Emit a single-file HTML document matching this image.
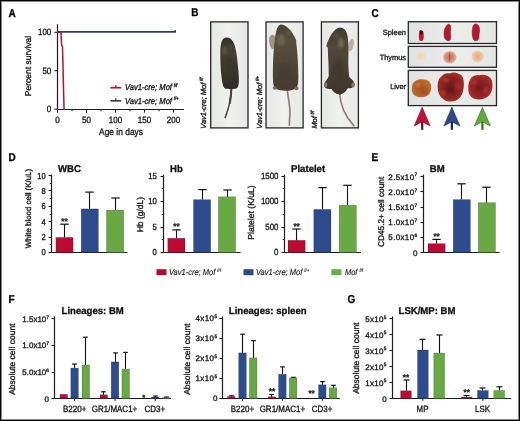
<!DOCTYPE html>
<html><head><meta charset="utf-8"><title>Figure</title>
<style>html,body{margin:0;padding:0;background:#fff;}body{width:520px;height:421px;overflow:hidden;}svg{display:block;will-change:transform;}</style>
</head><body><svg width="520" height="421" viewBox="0 0 520 421" font-family='"Liberation Sans", sans-serif' fill="#202020" text-rendering="geometricPrecision"><defs>
<filter id="soft2" x="-100%" y="-50%" width="300%" height="200%"><feGaussianBlur stdDeviation="0.5"/></filter>
<filter id="soft" x="-50%" y="-50%" width="200%" height="200%"><feGaussianBlur stdDeviation="1.2"/></filter>
<linearGradient id="photobg" x1="0" y1="0" x2="1" y2="0"><stop offset="0" stop-color="#e4e7e4"/><stop offset="0.5" stop-color="#f1f2f0"/><stop offset="1" stop-color="#e6e8e6"/></linearGradient>
<linearGradient id="organbg" x1="0" y1="0" x2="1" y2="0"><stop offset="0" stop-color="#dfe2e0"/><stop offset="0.5" stop-color="#eceeec"/><stop offset="1" stop-color="#e4e6e4"/></linearGradient>
<linearGradient id="fur1" x1="0" y1="0" x2="0" y2="1"><stop offset="0" stop-color="#34312a"/><stop offset="0.3" stop-color="#454032"/><stop offset="1" stop-color="#2e2c25"/></linearGradient>
<linearGradient id="fur2" x1="0" y1="0" x2="0" y2="1"><stop offset="0" stop-color="#463f31"/><stop offset="0.25" stop-color="#584e3d"/><stop offset="1" stop-color="#443c30"/></linearGradient>
<linearGradient id="fur3" x1="0" y1="0" x2="0" y2="1"><stop offset="0" stop-color="#403a2e"/><stop offset="0.3" stop-color="#51483a"/><stop offset="1" stop-color="#3e362b"/></linearGradient>
<radialGradient id="liv1" r="0.6"><stop offset="0" stop-color="#a85420"/><stop offset="0.75" stop-color="#b8642c"/><stop offset="1" stop-color="#d09a68"/></radialGradient>
<radialGradient id="liv2" r="0.62"><stop offset="0" stop-color="#6a1c1a"/><stop offset="0.55" stop-color="#8a2220"/><stop offset="0.88" stop-color="#a8302c"/><stop offset="1" stop-color="#c87868"/></radialGradient>
<radialGradient id="liv3" r="0.62"><stop offset="0" stop-color="#7c1e1e"/><stop offset="0.6" stop-color="#962424"/><stop offset="0.9" stop-color="#ac3430"/><stop offset="1" stop-color="#c87a6a"/></radialGradient>
<radialGradient id="thy1"><stop offset="0" stop-color="#f0d4b0"/><stop offset="0.7" stop-color="#f0dcc0"/><stop offset="1" stop-color="#eae2d8"/></radialGradient>
<radialGradient id="thy2"><stop offset="0" stop-color="#cc6a52"/><stop offset="0.65" stop-color="#d68e78"/><stop offset="1" stop-color="#e4c0b4"/></radialGradient>
<radialGradient id="thy3"><stop offset="0" stop-color="#eaa878"/><stop offset="0.65" stop-color="#eec29e"/><stop offset="1" stop-color="#ead8c8"/></radialGradient>
</defs><rect x="0" y="0" width="520" height="421" fill="#000"/><rect x="1" y="1" width="518" height="419" fill="#8a8a8a"/><rect x="2" y="2" width="516" height="417" fill="#fff"/><text transform="translate(8.40,16.70) scale(0.88,1)" font-size="11.36" text-anchor="start" font-weight="bold" fill="#000" stroke="#000" stroke-width="0.3">A</text>
<text transform="translate(191.20,16.00) scale(0.88,1)" font-size="11.36" text-anchor="start" font-weight="bold" fill="#000" stroke="#000" stroke-width="0.3">B</text>
<text transform="translate(371.50,16.50) scale(0.88,1)" font-size="11.36" text-anchor="start" font-weight="bold" fill="#000" stroke="#000" stroke-width="0.3">C</text>
<text transform="translate(8.60,161.30) scale(0.88,1)" font-size="11.36" text-anchor="start" font-weight="bold" fill="#000" stroke="#000" stroke-width="0.3">D</text>
<text transform="translate(371.50,161.30) scale(0.88,1)" font-size="11.36" text-anchor="start" font-weight="bold" fill="#000" stroke="#000" stroke-width="0.3">E</text>
<text transform="translate(8.60,303.30) scale(0.88,1)" font-size="11.36" text-anchor="start" font-weight="bold" fill="#000" stroke="#000" stroke-width="0.3">F</text>
<text transform="translate(347.40,303.30) scale(0.88,1)" font-size="11.36" text-anchor="start" font-weight="bold" fill="#000" stroke="#000" stroke-width="0.3">G</text>
<line x1="57.50" y1="24.30" x2="57.50" y2="110.10" stroke="#1c1c1c" stroke-width="1.2"/>
<line x1="56.90" y1="109.50" x2="184.00" y2="109.50" stroke="#1c1c1c" stroke-width="1.2"/>
<line x1="54.30" y1="32.30" x2="57.50" y2="32.30" stroke="#1c1c1c" stroke-width="1.0"/>
<text transform="translate(51.30,35.20) scale(0.88,1)" font-size="9.09" text-anchor="end" stroke="#202020" stroke-width="0.35">100</text>
<line x1="54.30" y1="70.70" x2="57.50" y2="70.70" stroke="#1c1c1c" stroke-width="1.0"/>
<text transform="translate(51.30,73.60) scale(0.88,1)" font-size="9.09" text-anchor="end" stroke="#202020" stroke-width="0.35">50</text>
<line x1="54.30" y1="109.20" x2="57.50" y2="109.20" stroke="#1c1c1c" stroke-width="1.0"/>
<text transform="translate(51.30,112.10) scale(0.88,1)" font-size="9.09" text-anchor="end" stroke="#202020" stroke-width="0.35">0</text>
<line x1="57.50" y1="109.50" x2="57.50" y2="112.70" stroke="#1c1c1c" stroke-width="1.0"/>
<text transform="translate(57.50,122.80) scale(0.88,1)" font-size="9.09" text-anchor="middle" stroke="#202020" stroke-width="0.35">0</text>
<line x1="72.00" y1="109.00" x2="72.00" y2="111.30" stroke="#1c1c1c" stroke-width="1.0"/>
<line x1="86.50" y1="109.50" x2="86.50" y2="112.70" stroke="#1c1c1c" stroke-width="1.0"/>
<text transform="translate(86.50,122.80) scale(0.88,1)" font-size="9.09" text-anchor="middle" stroke="#202020" stroke-width="0.35">50</text>
<line x1="101.00" y1="109.00" x2="101.00" y2="111.30" stroke="#1c1c1c" stroke-width="1.0"/>
<line x1="115.50" y1="109.50" x2="115.50" y2="112.70" stroke="#1c1c1c" stroke-width="1.0"/>
<text transform="translate(115.50,122.80) scale(0.88,1)" font-size="9.09" text-anchor="middle" stroke="#202020" stroke-width="0.35">100</text>
<line x1="130.00" y1="109.00" x2="130.00" y2="111.30" stroke="#1c1c1c" stroke-width="1.0"/>
<line x1="144.50" y1="109.50" x2="144.50" y2="112.70" stroke="#1c1c1c" stroke-width="1.0"/>
<text transform="translate(144.50,122.80) scale(0.88,1)" font-size="9.09" text-anchor="middle" stroke="#202020" stroke-width="0.35">150</text>
<line x1="159.00" y1="109.00" x2="159.00" y2="111.30" stroke="#1c1c1c" stroke-width="1.0"/>
<line x1="173.50" y1="109.50" x2="173.50" y2="112.70" stroke="#1c1c1c" stroke-width="1.0"/>
<text transform="translate(173.50,122.80) scale(0.88,1)" font-size="9.09" text-anchor="middle" stroke="#202020" stroke-width="0.35">200</text>
<text transform="translate(121.00,135.40) scale(0.88,1)" font-size="9.55" text-anchor="middle" stroke="#202020" stroke-width="0.35">Age in days</text>
<text transform="translate(31.40,66.00) scale(1.0,1) rotate(-90)" font-size="8.50" text-anchor="middle" stroke="#202020" stroke-width="0.35">Percent survival</text>
<line x1="57.50" y1="31.90" x2="175.40" y2="31.90" stroke="#2e3d62" stroke-width="1.6"/>
<line x1="175.20" y1="30.00" x2="175.20" y2="32.60" stroke="#1e2a44" stroke-width="1.3"/>
<polyline points="57.5,32.0 61,32.0 61.3,40 61.7,45 62.5,47 62.8,58 63.1,70 63.4,84 63.7,96 64.1,109.5" fill="none" stroke="#a8163c" stroke-width="1.5"/>
<line x1="110.40" y1="87.70" x2="121.20" y2="87.70" stroke="#a8163c" stroke-width="1.7"/>
<line x1="115.80" y1="85.10" x2="115.80" y2="87.70" stroke="#a8163c" stroke-width="1.3"/>
<text transform="translate(125.00,90.40) scale(0.88,1)" font-size="8.64" text-anchor="start" font-style="italic" stroke="#202020" stroke-width="0.35">Vav1-cre; Mof<tspan font-size="4.8" dx="2.0" dy="-3.2">f/f</tspan></text>
<line x1="110.40" y1="100.80" x2="121.20" y2="100.80" stroke="#2e3d62" stroke-width="1.7"/>
<line x1="115.80" y1="98.20" x2="115.80" y2="100.80" stroke="#2e3d62" stroke-width="1.3"/>
<text transform="translate(125.00,103.50) scale(0.88,1)" font-size="8.64" text-anchor="start" font-style="italic" stroke="#202020" stroke-width="0.35">Vav1-cre; Mof<tspan font-size="4.8" dx="2.0" dy="-3.2">f/+</tspan></text>
<rect x="210.70" y="21.90" width="37.30" height="106.00" fill="url(#photobg)" stroke="#262626" stroke-width="1.3"/>
<rect x="266.00" y="21.90" width="37.10" height="106.00" fill="url(#photobg)" stroke="#262626" stroke-width="1.3"/>
<rect x="321.40" y="21.90" width="37.00" height="106.00" fill="url(#photobg)" stroke="#262626" stroke-width="1.3"/>
<text transform="translate(206.20,128.80) scale(1.0,1) rotate(-90)" font-size="7.45" text-anchor="start" font-style="italic" stroke="#202020" stroke-width="0.35">Vav1-cre; Mof<tspan font-size="4.6" dx="1.6" dy="-2.9">f/f</tspan></text>
<text transform="translate(261.90,128.80) scale(1.0,1) rotate(-90)" font-size="7.45" text-anchor="start" font-style="italic" stroke="#202020" stroke-width="0.35">Vav1-cre; Mof<tspan font-size="4.6" dx="1.6" dy="-2.9">f/+</tspan></text>
<text transform="translate(317.30,128.60) scale(1.0,1) rotate(-90)" font-size="7.45" text-anchor="start" font-style="italic" stroke="#202020" stroke-width="0.35">Mof<tspan font-size="4.6" dx="1.6" dy="-2.9">f/f</tspan></text>
<g>
<path d="M231.4,87.5 C231.2,97 229,108 225.2,117.6" fill="none" stroke="#45423c" stroke-width="1.5" stroke-linecap="round"/><path d="M231.4,87.5 C231.3,93 230.8,98 229.8,103" fill="none" stroke="#4a463e" stroke-width="2.1" stroke-linecap="round"/>
<path d="M226.1,37.6 C229,37.4 231.5,39 232.6,41.1 C234,43.5 235,46 235.4,48.3 C236.5,53 237.2,57.5 237.6,62.6 C238.3,70 239,76 238.9,81 C238.8,85 238.2,87.5 236.5,88.4 C233,89 229,89 225.4,88.8 C223.6,88 222.6,85 221.9,80 C221,74 220.5,68 220.4,62 C220.3,56 220.2,51 220.4,48.3 C220.7,45 221.2,43 221.9,41.1 C222.8,39 224.3,37.7 226.1,37.6 Z" fill="url(#fur1)"/>
<g filter="url(#soft)" opacity="0.75">
<ellipse cx="224.5" cy="50" rx="2.4" ry="4.5" fill="#5e5644"/>
<ellipse cx="231" cy="47" rx="2.5" ry="3" fill="#4e4838"/>
<ellipse cx="230" cy="66" rx="4" ry="8" fill="#3a3528"/>
</g>
</g>
<g>
<path d="M287.2,89 C287.8,97 290.4,106 289.9,114 C289.6,119 289.3,122 289.4,125.2" fill="none" stroke="#8e8078" stroke-width="1.7" stroke-linecap="round"/>
<path d="M269.4,37.4 C270.5,34.5 273,34 275,36 L276.5,47 C275,50 272,50 270.5,47 C269.3,44 268.8,40 269.4,37.4 Z" fill="#a49484"/>
<path d="M280.6,24.6 C285,24.4 290,29 293.5,35 C295.5,38 296.8,40.5 296.2,42.5 C297.2,50 297.8,58 298,66 C298.3,74 298.8,81 297.5,86 C296.5,89 293,90 290,90.4 C288,91 285,91 283,90.5 C280,90.2 276.5,89.6 274.6,88 C272.8,85 272.8,78 272.9,70 C273,62 273.3,54 274,48 C274.5,42 275,36 276.3,31 C277.3,27.5 278.6,25 280.6,24.6 Z" fill="url(#fur2)"/>
<g filter="url(#soft)" opacity="0.8">
<ellipse cx="281" cy="40" rx="4" ry="6" fill="#726652"/>
<ellipse cx="288" cy="33" rx="3" ry="3" fill="#5e5442"/>
<ellipse cx="285" cy="74" rx="7" ry="12" fill="#463d30"/>
</g>
<ellipse cx="274.8" cy="88" rx="2" ry="1.8" fill="#7a6a5c"/>
<ellipse cx="296.5" cy="88.4" rx="2" ry="1.8" fill="#7a6a5c"/>
</g>
<g>
<path d="M339.6,93 C340.2,104 344,115 353.8,125.6" fill="none" stroke="#8a7c74" stroke-width="1.6" stroke-linecap="round"/>
<ellipse cx="351" cy="45" rx="2.6" ry="6.4" fill="#c6aaa0" transform="rotate(12 351 45)"/>
<path d="M340.2,27.5 C343,27.4 345.5,29.5 346.8,33 C347.8,36 348.2,40 348.3,44 C348.6,50 348.5,56 348.3,62 C348.4,68 348.8,73 349.3,77 C351,78.5 353.5,80.5 354.3,83 C354.8,85.5 353.5,87.5 351.5,88 C350,88.3 348.5,88 347.5,88.5 C346,91.5 343,94.3 339.5,94.4 C336,94.3 333,92 331.5,89 C330,89 327.5,89.2 325.5,88 C323.8,86.5 324,83.5 325.5,81.5 C326.8,79.5 328.2,78 328.7,76 C328.8,70 328.5,64 328.2,58 C328,54 327.9,50 327.8,47.5 C326.8,47.5 326.2,46.5 326.6,45 C328,40 331,34 334.5,30.5 C336.3,28.6 338.2,27.5 340.2,27.5 Z" fill="url(#fur3)"/>
<g filter="url(#soft)" opacity="0.8">
<ellipse cx="341" cy="43" rx="3" ry="5" fill="#7a6e5c"/>
<ellipse cx="336" cy="36" rx="3" ry="3" fill="#5a5040"/>
<ellipse cx="338" cy="72" rx="6" ry="12" fill="#40382c"/>
</g>
<ellipse cx="325.6" cy="85" rx="1.8" ry="2.4" fill="#8a7464"/>
<ellipse cx="353.2" cy="85" rx="1.8" ry="2.4" fill="#8a7464"/>
</g>
<rect x="408.30" y="21.70" width="88.20" height="21.80" fill="url(#organbg)" stroke="#262626" stroke-width="1.3"/>
<rect x="408.30" y="46.40" width="88.20" height="20.90" fill="url(#organbg)" stroke="#262626" stroke-width="1.3"/>
<rect x="408.30" y="70.40" width="88.20" height="35.20" fill="url(#organbg)" stroke="#262626" stroke-width="1.3"/>
<text transform="translate(406.00,35.00) scale(0.98,1)" font-size="7.65" text-anchor="end" stroke="#202020" stroke-width="0.35">Spleen</text>
<text transform="translate(406.00,59.50) scale(0.98,1)" font-size="7.55" text-anchor="end" stroke="#202020" stroke-width="0.35">Thymus</text>
<text transform="translate(406.00,89.10) scale(0.98,1)" font-size="7.45" text-anchor="end" stroke="#202020" stroke-width="0.35">Liver</text>
<path d="M419.6,30.6 C421.6,29.8 423.4,30.6 423.6,33 C423.9,36 423.9,39 422.8,40.6 C421.6,41.4 419.6,41.1 419.1,39.5 C418.7,37 418.8,33 419.6,30.6 Z" fill="#bd1a2e"/>
<path d="M419.9,30.7 C421.1,30.1 422.6,30.5 422.8,32 L422.3,34.6 L420.1,34.6 Z" fill="#2a0c0c"/>
<path d="M448.5,24.2 C446,25 444.2,29 444,33 C443.8,37 445.2,40.8 448.8,40.8 C450.4,40.8 450.7,39 450.6,36.5 C450.5,33 450.6,30 450.6,27.5 C450.6,25 450,24.1 448.5,24.2 Z" fill="#b3182e" stroke="#8a1020" stroke-width="0.5"/>
<path d="M475.5,23.9 C478.5,23.8 479.7,27 479.6,30 C479.5,33 478.8,34.5 479,36.5 C479.2,39 478,40.8 475.8,40.8 C473.5,40.8 472.3,38 472.2,33.5 C472.1,28.5 472.8,24 475.5,23.9 Z" fill="#b3182e" stroke="#8a1020" stroke-width="0.5"/>
<ellipse cx="420.6" cy="56.2" rx="5.2" ry="4.8" fill="url(#thy1)"/>
<ellipse cx="449.7" cy="57.2" rx="6.8" ry="6.3" fill="url(#thy2)"/>
<path d="M449.6,52 C450.4,54 450.4,58 449.8,61.5 L449.2,61.5 C448.8,58 448.9,54 449.6,52 Z" fill="#b84a3c" filter="url(#soft2)"/>
<ellipse cx="477.7" cy="56.4" rx="6.3" ry="6" fill="url(#thy3)"/>
<path d="M415,81.2 C417.5,79.2 421,78.8 424,79.6 C427,79.4 429.8,81 430.8,84 C431.8,87 431.2,91 429.6,93.6 C428,96.4 424.5,97.4 420.5,97.2 C417,97.2 413.8,96 412.6,93.2 C411.4,90.4 411.6,86.6 412.6,84 C413.2,82.6 414,81.8 415,81.2 Z" fill="url(#liv1)"/>
<g filter="url(#soft)" opacity="0.7"><ellipse cx="418" cy="85" rx="2.5" ry="2" fill="#c8844a"/><ellipse cx="425" cy="92" rx="3" ry="2" fill="#9a4818"/><ellipse cx="426" cy="84" rx="2" ry="1.6" fill="#c07a40"/></g>
<path d="M441.5,76.5 C443,73.8 446.5,72.6 449.5,73.4 C452,72.2 456,72.4 458.5,73.8 C461.5,74.4 463.6,77 463.6,80.5 C464.2,84 463.8,88 463,91.5 C462,95.5 459.5,99 455.5,100.8 C452,102 447.5,101.8 444.5,100 C441,98 438.6,94.5 438,90.5 C437.3,86.5 437.6,82 438.8,79.5 C439.5,78 440.4,77.2 441.5,76.5 Z" fill="url(#liv2)"/>
<g filter="url(#soft)" opacity="0.75"><ellipse cx="446" cy="80" rx="3" ry="2.5" fill="#b43a34"/><ellipse cx="458" cy="86" rx="3" ry="4" fill="#a83030"/><ellipse cx="450" cy="90" rx="4" ry="3" fill="#5e1616"/><ellipse cx="443" cy="93" rx="2.5" ry="3" fill="#b23632"/></g>
<path d="M471.5,77.5 C473.5,75.4 476.5,74.6 479,75.2 C481,74.4 484.5,74.4 487,75.6 C490,76.8 492,79.5 492.4,83 C492.8,86.5 492.2,90.5 490.6,93.5 C488.6,97 485,99 480.5,99.4 C476,99.8 472,98.4 470,95.4 C468.4,93 468,89.5 468.3,86 C468.6,82.5 469.6,79.5 471.5,77.5 Z" fill="url(#liv3)"/>
<g filter="url(#soft)" opacity="0.7"><ellipse cx="474" cy="82" rx="2.5" ry="2.5" fill="#b43834"/><ellipse cx="486" cy="90" rx="3" ry="3" fill="#b03430"/><ellipse cx="480" cy="88" rx="4" ry="3" fill="#6e1a1a"/></g>
<rect x="421.10" y="120" width="2.2" height="9.8" fill="#6e0c20"/>
<path d="M422.20,107.2 L430.20,126.0 L422.20,121.8 L414.20,126.0 Z" fill="#bc1438" stroke="#6e0c20" stroke-width="0.6" stroke-linejoin="round"/>
<rect x="450.80" y="120" width="2.2" height="9.8" fill="#1a2a50"/>
<path d="M451.90,107.2 L459.90,126.0 L451.90,121.8 L443.90,126.0 Z" fill="#2c4a88" stroke="#1a2a50" stroke-width="0.6" stroke-linejoin="round"/>
<rect x="481.30" y="120" width="2.2" height="9.8" fill="#3a6a26"/>
<path d="M482.40,107.2 L490.40,126.0 L482.40,121.8 L474.40,126.0 Z" fill="#62aa40" stroke="#3a6a26" stroke-width="0.6" stroke-linejoin="round"/>
<line x1="51.50" y1="174.60" x2="51.50" y2="253.10" stroke="#1c1c1c" stroke-width="1.2"/>
<line x1="50.90" y1="252.50" x2="127.40" y2="252.50" stroke="#1c1c1c" stroke-width="1.2"/>
<line x1="48.50" y1="252.50" x2="51.50" y2="252.50" stroke="#1c1c1c" stroke-width="1.1"/>
<text transform="translate(45.60,255.30) scale(0.88,1)" font-size="8.64" text-anchor="end" stroke="#202020" stroke-width="0.35">0</text>
<line x1="48.50" y1="237.50" x2="51.50" y2="237.50" stroke="#1c1c1c" stroke-width="1.1"/>
<text transform="translate(45.60,239.94) scale(0.88,1)" font-size="8.64" text-anchor="end" stroke="#202020" stroke-width="0.35">2</text>
<line x1="48.50" y1="221.50" x2="51.50" y2="221.50" stroke="#1c1c1c" stroke-width="1.1"/>
<text transform="translate(45.60,224.58) scale(0.88,1)" font-size="8.64" text-anchor="end" stroke="#202020" stroke-width="0.35">4</text>
<line x1="48.50" y1="206.50" x2="51.50" y2="206.50" stroke="#1c1c1c" stroke-width="1.1"/>
<text transform="translate(45.60,209.22) scale(0.88,1)" font-size="8.64" text-anchor="end" stroke="#202020" stroke-width="0.35">6</text>
<line x1="48.50" y1="190.50" x2="51.50" y2="190.50" stroke="#1c1c1c" stroke-width="1.1"/>
<text transform="translate(45.60,193.86) scale(0.88,1)" font-size="8.64" text-anchor="end" stroke="#202020" stroke-width="0.35">8</text>
<line x1="48.50" y1="175.50" x2="51.50" y2="175.50" stroke="#1c1c1c" stroke-width="1.1"/>
<text transform="translate(45.60,178.50) scale(0.88,1)" font-size="8.64" text-anchor="end" stroke="#202020" stroke-width="0.35">10</text>
<line x1="49.70" y1="244.50" x2="51.50" y2="244.50" stroke="#1c1c1c" stroke-width="1.0"/>
<line x1="49.70" y1="229.50" x2="51.50" y2="229.50" stroke="#1c1c1c" stroke-width="1.0"/>
<line x1="49.70" y1="214.50" x2="51.50" y2="214.50" stroke="#1c1c1c" stroke-width="1.0"/>
<line x1="49.70" y1="198.50" x2="51.50" y2="198.50" stroke="#1c1c1c" stroke-width="1.0"/>
<line x1="49.70" y1="183.50" x2="51.50" y2="183.50" stroke="#1c1c1c" stroke-width="1.0"/>
<line x1="64.50" y1="237.40" x2="64.50" y2="224.20" stroke="#111" stroke-width="1.1"/>
<line x1="60.30" y1="224.20" x2="68.70" y2="224.20" stroke="#111" stroke-width="1.2000000000000002"/>
<rect x="55.90" y="237.40" width="17.20" height="15.10" fill="#bc0a32" stroke="rgba(0,0,0,0.35)" stroke-width="0.5"/>
<text transform="translate(64.50,223.70) scale(1.0,1)" font-size="8.20" text-anchor="middle" font-weight="bold" fill="#222" stroke="#222" stroke-width="0.3">**</text>
<line x1="89.50" y1="208.90" x2="89.50" y2="192.10" stroke="#111" stroke-width="1.1"/>
<line x1="85.30" y1="192.10" x2="93.70" y2="192.10" stroke="#111" stroke-width="1.2000000000000002"/>
<rect x="81.20" y="208.90" width="17.20" height="43.60" fill="#2d4c8d" stroke="rgba(0,0,0,0.35)" stroke-width="0.5"/>
<line x1="115.50" y1="210.10" x2="115.50" y2="198.00" stroke="#111" stroke-width="1.1"/>
<line x1="111.30" y1="198.00" x2="119.70" y2="198.00" stroke="#111" stroke-width="1.2000000000000002"/>
<rect x="106.50" y="210.10" width="17.20" height="42.40" fill="#68a944" stroke="rgba(0,0,0,0.35)" stroke-width="0.5"/>
<text transform="translate(28.90,208.60) scale(1.0,1) rotate(-90)" font-size="7.90" text-anchor="middle" stroke="#202020" stroke-width="0.35" dominant-baseline="central">White blood cell (K/uL)</text>
<text transform="translate(69.40,171.70) scale(0.97,1)" font-size="9.90" text-anchor="middle" font-weight="bold" fill="#111" stroke="#111" stroke-width="0.3">WBC</text>
<line x1="163.50" y1="174.60" x2="163.50" y2="253.10" stroke="#1c1c1c" stroke-width="1.2"/>
<line x1="162.90" y1="252.50" x2="240.50" y2="252.50" stroke="#1c1c1c" stroke-width="1.2"/>
<line x1="160.50" y1="252.50" x2="163.50" y2="252.50" stroke="#1c1c1c" stroke-width="1.1"/>
<text transform="translate(156.90,255.40) scale(0.88,1)" font-size="8.86" text-anchor="end" stroke="#202020" stroke-width="0.35">0</text>
<line x1="160.50" y1="227.50" x2="163.50" y2="227.50" stroke="#1c1c1c" stroke-width="1.1"/>
<text transform="translate(156.90,229.93) scale(0.88,1)" font-size="8.86" text-anchor="end" stroke="#202020" stroke-width="0.35">5</text>
<line x1="160.50" y1="201.50" x2="163.50" y2="201.50" stroke="#1c1c1c" stroke-width="1.1"/>
<text transform="translate(156.90,204.47) scale(0.88,1)" font-size="8.86" text-anchor="end" stroke="#202020" stroke-width="0.35">10</text>
<line x1="160.50" y1="176.50" x2="163.50" y2="176.50" stroke="#1c1c1c" stroke-width="1.1"/>
<text transform="translate(156.90,179.00) scale(0.88,1)" font-size="8.86" text-anchor="end" stroke="#202020" stroke-width="0.35">15</text>
<line x1="161.70" y1="239.50" x2="163.50" y2="239.50" stroke="#1c1c1c" stroke-width="1.0"/>
<line x1="161.70" y1="214.50" x2="163.50" y2="214.50" stroke="#1c1c1c" stroke-width="1.0"/>
<line x1="161.70" y1="188.50" x2="163.50" y2="188.50" stroke="#1c1c1c" stroke-width="1.0"/>
<line x1="176.50" y1="238.30" x2="176.50" y2="229.90" stroke="#111" stroke-width="1.1"/>
<line x1="172.30" y1="229.90" x2="180.70" y2="229.90" stroke="#111" stroke-width="1.2000000000000002"/>
<rect x="167.80" y="238.30" width="17.20" height="14.20" fill="#bc0a32" stroke="rgba(0,0,0,0.35)" stroke-width="0.5"/>
<text transform="translate(176.40,229.40) scale(1.0,1)" font-size="8.20" text-anchor="middle" font-weight="bold" fill="#222" stroke="#222" stroke-width="0.3">**</text>
<line x1="202.50" y1="199.70" x2="202.50" y2="189.60" stroke="#111" stroke-width="1.1"/>
<line x1="198.30" y1="189.60" x2="206.70" y2="189.60" stroke="#111" stroke-width="1.2000000000000002"/>
<rect x="193.50" y="199.70" width="17.20" height="52.80" fill="#2d4c8d" stroke="rgba(0,0,0,0.35)" stroke-width="0.5"/>
<line x1="227.50" y1="196.80" x2="227.50" y2="190.00" stroke="#111" stroke-width="1.1"/>
<line x1="223.30" y1="190.00" x2="231.70" y2="190.00" stroke="#111" stroke-width="1.2000000000000002"/>
<rect x="218.40" y="196.80" width="17.20" height="55.70" fill="#68a944" stroke="rgba(0,0,0,0.35)" stroke-width="0.5"/>
<text transform="translate(139.60,214.60) scale(1.0,1) rotate(-90)" font-size="8.50" text-anchor="middle" stroke="#202020" stroke-width="0.35" dominant-baseline="central">Hb (g/dL)</text>
<text transform="translate(176.40,171.70) scale(0.97,1)" font-size="9.90" text-anchor="middle" font-weight="bold" fill="#111" stroke="#111" stroke-width="0.3">Hb</text>
<line x1="284.50" y1="174.60" x2="284.50" y2="253.10" stroke="#1c1c1c" stroke-width="1.2"/>
<line x1="283.90" y1="252.50" x2="360.80" y2="252.50" stroke="#1c1c1c" stroke-width="1.2"/>
<line x1="281.50" y1="252.50" x2="284.50" y2="252.50" stroke="#1c1c1c" stroke-width="1.1"/>
<text transform="translate(278.50,255.40) scale(0.88,1)" font-size="8.98" text-anchor="end" stroke="#202020" stroke-width="0.35">0</text>
<line x1="281.50" y1="227.50" x2="284.50" y2="227.50" stroke="#1c1c1c" stroke-width="1.1"/>
<text transform="translate(278.50,229.93) scale(0.88,1)" font-size="8.98" text-anchor="end" stroke="#202020" stroke-width="0.35">500</text>
<line x1="281.50" y1="201.50" x2="284.50" y2="201.50" stroke="#1c1c1c" stroke-width="1.1"/>
<text transform="translate(278.50,204.47) scale(0.88,1)" font-size="8.98" text-anchor="end" stroke="#202020" stroke-width="0.35">1000</text>
<line x1="281.50" y1="176.50" x2="284.50" y2="176.50" stroke="#1c1c1c" stroke-width="1.1"/>
<text transform="translate(278.50,179.00) scale(0.88,1)" font-size="8.98" text-anchor="end" stroke="#202020" stroke-width="0.35">1500</text>
<line x1="282.70" y1="239.50" x2="284.50" y2="239.50" stroke="#1c1c1c" stroke-width="1.0"/>
<line x1="282.70" y1="214.50" x2="284.50" y2="214.50" stroke="#1c1c1c" stroke-width="1.0"/>
<line x1="282.70" y1="188.50" x2="284.50" y2="188.50" stroke="#1c1c1c" stroke-width="1.0"/>
<line x1="296.50" y1="240.30" x2="296.50" y2="229.00" stroke="#111" stroke-width="1.1"/>
<line x1="292.30" y1="229.00" x2="300.70" y2="229.00" stroke="#111" stroke-width="1.2000000000000002"/>
<rect x="288.00" y="240.30" width="17.20" height="12.20" fill="#bc0a32" stroke="rgba(0,0,0,0.35)" stroke-width="0.5"/>
<text transform="translate(296.60,228.50) scale(1.0,1)" font-size="8.20" text-anchor="middle" font-weight="bold" fill="#222" stroke="#222" stroke-width="0.3">**</text>
<line x1="322.50" y1="209.40" x2="322.50" y2="187.60" stroke="#111" stroke-width="1.1"/>
<line x1="318.30" y1="187.60" x2="326.70" y2="187.60" stroke="#111" stroke-width="1.2000000000000002"/>
<rect x="313.80" y="209.40" width="17.20" height="43.10" fill="#2d4c8d" stroke="rgba(0,0,0,0.35)" stroke-width="0.5"/>
<line x1="347.50" y1="205.20" x2="347.50" y2="185.30" stroke="#111" stroke-width="1.1"/>
<line x1="343.30" y1="185.30" x2="351.70" y2="185.30" stroke="#111" stroke-width="1.2000000000000002"/>
<rect x="339.20" y="205.20" width="17.20" height="47.30" fill="#68a944" stroke="rgba(0,0,0,0.35)" stroke-width="0.5"/>
<text transform="translate(251.40,212.50) scale(1.0,1) rotate(-90)" font-size="8.60" text-anchor="middle" stroke="#202020" stroke-width="0.35" dominant-baseline="central">Platelet (K/uL)</text>
<text transform="translate(308.10,171.70) scale(0.97,1)" font-size="9.90" text-anchor="middle" font-weight="bold" fill="#111" stroke="#111" stroke-width="0.3">Platelet</text>
<line x1="423.50" y1="174.60" x2="423.50" y2="253.10" stroke="#1c1c1c" stroke-width="1.2"/>
<line x1="422.90" y1="252.50" x2="499.60" y2="252.50" stroke="#1c1c1c" stroke-width="1.2"/>
<line x1="420.50" y1="252.50" x2="423.50" y2="252.50" stroke="#1c1c1c" stroke-width="1.1"/>
<text transform="translate(417.50,255.60) scale(1.0,1)" font-size="8.00" text-anchor="end" stroke="#202020" stroke-width="0.35">0</text>
<line x1="420.50" y1="237.50" x2="423.50" y2="237.50" stroke="#1c1c1c" stroke-width="1.1"/>
<text transform="translate(417.50,240.38) scale(1.0,1)" font-size="8.00" text-anchor="end" stroke="#202020" stroke-width="0.35" letter-spacing="0.35">5.0x10<tspan font-size="4.8" dy="-3.2">6</tspan></text>
<line x1="420.50" y1="222.50" x2="423.50" y2="222.50" stroke="#1c1c1c" stroke-width="1.1"/>
<text transform="translate(417.50,225.16) scale(1.0,1)" font-size="8.00" text-anchor="end" stroke="#202020" stroke-width="0.35" letter-spacing="0.35">1.0x10<tspan font-size="4.8" dy="-3.2">7</tspan></text>
<line x1="420.50" y1="207.50" x2="423.50" y2="207.50" stroke="#1c1c1c" stroke-width="1.1"/>
<text transform="translate(417.50,209.94) scale(1.0,1)" font-size="8.00" text-anchor="end" stroke="#202020" stroke-width="0.35" letter-spacing="0.35">1.5x10<tspan font-size="4.8" dy="-3.2">7</tspan></text>
<line x1="420.50" y1="191.50" x2="423.50" y2="191.50" stroke="#1c1c1c" stroke-width="1.1"/>
<text transform="translate(417.50,194.72) scale(1.0,1)" font-size="8.00" text-anchor="end" stroke="#202020" stroke-width="0.35" letter-spacing="0.35">2.0x10<tspan font-size="4.8" dy="-3.2">7</tspan></text>
<line x1="420.50" y1="176.50" x2="423.50" y2="176.50" stroke="#1c1c1c" stroke-width="1.1"/>
<text transform="translate(417.50,179.50) scale(1.0,1)" font-size="8.00" text-anchor="end" stroke="#202020" stroke-width="0.35" letter-spacing="0.35">2.5x10<tspan font-size="4.8" dy="-3.2">7</tspan></text>
<line x1="436.50" y1="243.70" x2="436.50" y2="239.40" stroke="#111" stroke-width="1.1"/>
<line x1="432.30" y1="239.40" x2="440.70" y2="239.40" stroke="#111" stroke-width="1.2000000000000002"/>
<rect x="428.00" y="243.70" width="17.20" height="8.80" fill="#bc0a32" stroke="rgba(0,0,0,0.35)" stroke-width="0.5"/>
<text transform="translate(436.60,238.90) scale(1.0,1)" font-size="8.20" text-anchor="middle" font-weight="bold" fill="#222" stroke="#222" stroke-width="0.3">**</text>
<line x1="461.50" y1="199.60" x2="461.50" y2="183.80" stroke="#111" stroke-width="1.1"/>
<line x1="457.30" y1="183.80" x2="465.70" y2="183.80" stroke="#111" stroke-width="1.2000000000000002"/>
<rect x="453.20" y="199.60" width="17.20" height="52.90" fill="#2d4c8d" stroke="rgba(0,0,0,0.35)" stroke-width="0.5"/>
<line x1="486.50" y1="202.70" x2="486.50" y2="187.20" stroke="#111" stroke-width="1.1"/>
<line x1="482.30" y1="187.20" x2="490.70" y2="187.20" stroke="#111" stroke-width="1.2000000000000002"/>
<rect x="478.30" y="202.70" width="17.20" height="49.80" fill="#68a944" stroke="rgba(0,0,0,0.35)" stroke-width="0.5"/>
<text transform="translate(380.80,211.90) scale(1.0,1) rotate(-90)" font-size="8.30" text-anchor="middle" stroke="#202020" stroke-width="0.35" dominant-baseline="central">CD45.2+ cell count</text>
<text transform="translate(437.20,171.70) scale(0.97,1)" font-size="9.90" text-anchor="middle" font-weight="bold" fill="#111" stroke="#111" stroke-width="0.3">BM</text>
<rect x="156.50" y="269.20" width="10.00" height="6.00" fill="#b20a2e"/>
<text transform="translate(168.90,275.40) scale(0.88,1)" font-size="8.52" text-anchor="start" font-style="italic" stroke="#202020" stroke-width="0.15">Vav1-cre; Mof<tspan font-size="4.8" dx="2.4" dy="-3.0">f/f</tspan></text>
<rect x="243.50" y="269.20" width="10.00" height="6.00" fill="#2b4a8a"/>
<text transform="translate(255.90,275.40) scale(0.88,1)" font-size="8.52" text-anchor="start" font-style="italic" stroke="#202020" stroke-width="0.15">Vav1-cre; Mof<tspan font-size="4.8" dx="2.4" dy="-3.0">f/+</tspan></text>
<rect x="331.40" y="269.20" width="10.00" height="6.00" fill="#68ae46"/>
<text transform="translate(344.90,275.40) scale(0.88,1)" font-size="8.52" text-anchor="start" font-style="italic" stroke="#202020" stroke-width="0.15">Mof<tspan font-size="4.8" dx="2.4" dy="-3.0">f/f</tspan></text>
<line x1="54.50" y1="316.50" x2="54.50" y2="399.10" stroke="#1c1c1c" stroke-width="1.2"/>
<line x1="53.90" y1="398.50" x2="171.00" y2="398.50" stroke="#1c1c1c" stroke-width="1.2"/>
<line x1="51.50" y1="398.50" x2="54.50" y2="398.50" stroke="#1c1c1c" stroke-width="1.1"/>
<text transform="translate(49.00,401.50) scale(1.0,1)" font-size="8.00" text-anchor="end" stroke="#202020" stroke-width="0.35">0</text>
<line x1="51.50" y1="372.50" x2="54.50" y2="372.50" stroke="#1c1c1c" stroke-width="1.1"/>
<text transform="translate(49.00,374.90) scale(1.0,1)" font-size="8.00" text-anchor="end" stroke="#202020" stroke-width="0.35">5.0x10<tspan font-size="4.8" dy="-3.2">6</tspan></text>
<line x1="51.50" y1="345.50" x2="54.50" y2="345.50" stroke="#1c1c1c" stroke-width="1.1"/>
<text transform="translate(49.00,348.30) scale(1.0,1)" font-size="8.00" text-anchor="end" stroke="#202020" stroke-width="0.35">1.0x10<tspan font-size="4.8" dy="-3.2">7</tspan></text>
<line x1="51.50" y1="318.50" x2="54.50" y2="318.50" stroke="#1c1c1c" stroke-width="1.1"/>
<text transform="translate(49.00,321.70) scale(1.0,1)" font-size="8.00" text-anchor="end" stroke="#202020" stroke-width="0.35">1.5x10<tspan font-size="4.8" dy="-3.2">7</tspan></text>
<line x1="74.60" y1="398.50" x2="74.60" y2="400.90" stroke="#1c1c1c" stroke-width="1.0"/>
<line x1="115.00" y1="398.50" x2="115.00" y2="400.90" stroke="#1c1c1c" stroke-width="1.0"/>
<line x1="155.20" y1="398.50" x2="155.20" y2="400.90" stroke="#1c1c1c" stroke-width="1.0"/>
<rect x="60.00" y="394.30" width="7.60" height="4.20" fill="#bc0a32" stroke="rgba(0,0,0,0.35)" stroke-width="0.5"/>
<line x1="74.50" y1="368.10" x2="74.50" y2="364.10" stroke="#111" stroke-width="1.1"/>
<line x1="72.20" y1="364.10" x2="76.80" y2="364.10" stroke="#111" stroke-width="1.2000000000000002"/>
<rect x="70.80" y="368.10" width="7.60" height="30.40" fill="#2d4c8d" stroke="rgba(0,0,0,0.35)" stroke-width="0.5"/>
<line x1="85.50" y1="365.00" x2="85.50" y2="337.20" stroke="#111" stroke-width="1.1"/>
<line x1="83.20" y1="337.20" x2="87.80" y2="337.20" stroke="#111" stroke-width="1.2000000000000002"/>
<rect x="82.00" y="365.00" width="7.60" height="33.50" fill="#68a944" stroke="rgba(0,0,0,0.35)" stroke-width="0.5"/>
<line x1="103.50" y1="394.80" x2="103.50" y2="391.80" stroke="#111" stroke-width="1.1"/>
<line x1="101.20" y1="391.80" x2="105.80" y2="391.80" stroke="#111" stroke-width="1.2000000000000002"/>
<rect x="100.00" y="394.80" width="7.60" height="3.70" fill="#bc0a32" stroke="rgba(0,0,0,0.35)" stroke-width="0.5"/>
<line x1="115.50" y1="361.90" x2="115.50" y2="352.90" stroke="#111" stroke-width="1.1"/>
<line x1="113.20" y1="352.90" x2="117.80" y2="352.90" stroke="#111" stroke-width="1.2000000000000002"/>
<rect x="111.20" y="361.90" width="7.60" height="36.60" fill="#2d4c8d" stroke="rgba(0,0,0,0.35)" stroke-width="0.5"/>
<line x1="125.50" y1="369.10" x2="125.50" y2="352.40" stroke="#111" stroke-width="1.1"/>
<line x1="123.20" y1="352.40" x2="127.80" y2="352.40" stroke="#111" stroke-width="1.2000000000000002"/>
<rect x="121.90" y="369.10" width="7.60" height="29.40" fill="#68a944" stroke="rgba(0,0,0,0.35)" stroke-width="0.5"/>
<rect x="143.00" y="398.30" width="7.60" height="0.20" fill="#bc0a32" stroke="rgba(0,0,0,0.35)" stroke-width="0.5"/>
<line x1="155.50" y1="397.00" x2="155.50" y2="396.00" stroke="#111" stroke-width="1.1"/>
<line x1="153.20" y1="396.00" x2="157.80" y2="396.00" stroke="#111" stroke-width="1.2000000000000002"/>
<rect x="151.40" y="397.00" width="7.60" height="1.50" fill="#2d4c8d" stroke="rgba(0,0,0,0.35)" stroke-width="0.5"/>
<line x1="166.50" y1="397.60" x2="166.50" y2="397.00" stroke="#111" stroke-width="1.1"/>
<line x1="164.20" y1="397.00" x2="168.80" y2="397.00" stroke="#111" stroke-width="1.2000000000000002"/>
<rect x="162.60" y="397.60" width="7.60" height="0.90" fill="#68a944" stroke="rgba(0,0,0,0.35)" stroke-width="0.5"/>
<text transform="translate(11.90,359.20) scale(1.0,1) rotate(-90)" font-size="8.50" text-anchor="middle" stroke="#202020" stroke-width="0.35" dominant-baseline="central">Absolute cell count</text>
<text transform="translate(92.70,313.50) scale(0.97,1)" font-size="9.90" text-anchor="middle" font-weight="bold" fill="#111" stroke="#111" stroke-width="0.3">Lineages: BM</text>
<text transform="translate(143.60,399.60) scale(1.0,1)" font-size="7.50" text-anchor="middle" font-weight="bold" fill="#222" stroke="#222" stroke-width="0.3">*</text>
<line x1="222.50" y1="316.50" x2="222.50" y2="399.10" stroke="#1c1c1c" stroke-width="1.2"/>
<line x1="221.90" y1="398.50" x2="339.80" y2="398.50" stroke="#1c1c1c" stroke-width="1.2"/>
<line x1="219.50" y1="398.50" x2="222.50" y2="398.50" stroke="#1c1c1c" stroke-width="1.1"/>
<text transform="translate(217.50,401.40) scale(1.0,1)" font-size="8.00" text-anchor="end" stroke="#202020" stroke-width="0.35">0</text>
<line x1="219.50" y1="378.50" x2="222.50" y2="378.50" stroke="#1c1c1c" stroke-width="1.1"/>
<text transform="translate(217.50,381.40) scale(1.0,1)" font-size="8.00" text-anchor="end" stroke="#202020" stroke-width="0.35" letter-spacing="0.4">1x10<tspan font-size="4.8" dy="-3.2">5</tspan></text>
<line x1="219.50" y1="358.50" x2="222.50" y2="358.50" stroke="#1c1c1c" stroke-width="1.1"/>
<text transform="translate(217.50,361.40) scale(1.0,1)" font-size="8.00" text-anchor="end" stroke="#202020" stroke-width="0.35" letter-spacing="0.4">2x10<tspan font-size="4.8" dy="-3.2">5</tspan></text>
<line x1="219.50" y1="338.50" x2="222.50" y2="338.50" stroke="#1c1c1c" stroke-width="1.1"/>
<text transform="translate(217.50,341.40) scale(1.0,1)" font-size="8.00" text-anchor="end" stroke="#202020" stroke-width="0.35" letter-spacing="0.4">3x10<tspan font-size="4.8" dy="-3.2">5</tspan></text>
<line x1="219.50" y1="318.50" x2="222.50" y2="318.50" stroke="#1c1c1c" stroke-width="1.1"/>
<text transform="translate(217.50,321.40) scale(1.0,1)" font-size="8.00" text-anchor="end" stroke="#202020" stroke-width="0.35" letter-spacing="0.4">4x10<tspan font-size="4.8" dy="-3.2">5</tspan></text>
<line x1="242.50" y1="398.50" x2="242.50" y2="400.90" stroke="#1c1c1c" stroke-width="1.0"/>
<line x1="282.40" y1="398.50" x2="282.40" y2="400.90" stroke="#1c1c1c" stroke-width="1.0"/>
<line x1="322.30" y1="398.50" x2="322.30" y2="400.90" stroke="#1c1c1c" stroke-width="1.0"/>
<line x1="231.50" y1="396.50" x2="231.50" y2="395.80" stroke="#111" stroke-width="1.1"/>
<line x1="229.20" y1="395.80" x2="233.80" y2="395.80" stroke="#111" stroke-width="1.2000000000000002"/>
<rect x="227.50" y="396.50" width="7.60" height="2.00" fill="#bc0a32" stroke="rgba(0,0,0,0.35)" stroke-width="0.5"/>
<line x1="242.50" y1="352.90" x2="242.50" y2="334.20" stroke="#111" stroke-width="1.1"/>
<line x1="240.20" y1="334.20" x2="244.80" y2="334.20" stroke="#111" stroke-width="1.2000000000000002"/>
<rect x="238.70" y="352.90" width="7.60" height="45.60" fill="#2d4c8d" stroke="rgba(0,0,0,0.35)" stroke-width="0.5"/>
<line x1="253.50" y1="357.90" x2="253.50" y2="340.70" stroke="#111" stroke-width="1.1"/>
<line x1="251.20" y1="340.70" x2="255.80" y2="340.70" stroke="#111" stroke-width="1.2000000000000002"/>
<rect x="249.40" y="357.90" width="7.60" height="40.60" fill="#68a944" stroke="rgba(0,0,0,0.35)" stroke-width="0.5"/>
<line x1="271.50" y1="396.80" x2="271.50" y2="394.50" stroke="#111" stroke-width="1.1"/>
<line x1="269.20" y1="394.50" x2="273.80" y2="394.50" stroke="#111" stroke-width="1.2000000000000002"/>
<rect x="268.10" y="396.80" width="7.60" height="1.70" fill="#bc0a32" stroke="rgba(0,0,0,0.35)" stroke-width="0.5"/>
<text transform="translate(271.90,394.00) scale(1.0,1)" font-size="8.20" text-anchor="middle" font-weight="bold" fill="#222" stroke="#222" stroke-width="0.3">**</text>
<line x1="282.50" y1="374.30" x2="282.50" y2="366.90" stroke="#111" stroke-width="1.1"/>
<line x1="280.20" y1="366.90" x2="284.80" y2="366.90" stroke="#111" stroke-width="1.2000000000000002"/>
<rect x="278.60" y="374.30" width="7.60" height="24.20" fill="#2d4c8d" stroke="rgba(0,0,0,0.35)" stroke-width="0.5"/>
<line x1="293.50" y1="377.80" x2="293.50" y2="377.30" stroke="#111" stroke-width="1.1"/>
<line x1="291.20" y1="377.30" x2="295.80" y2="377.30" stroke="#111" stroke-width="1.2000000000000002"/>
<rect x="289.30" y="377.80" width="7.60" height="20.70" fill="#68a944" stroke="rgba(0,0,0,0.35)" stroke-width="0.5"/>
<rect x="308.40" y="398.20" width="7.60" height="0.30" fill="#bc0a32" stroke="rgba(0,0,0,0.35)" stroke-width="0.5"/>
<line x1="322.50" y1="384.80" x2="322.50" y2="381.60" stroke="#111" stroke-width="1.1"/>
<line x1="320.20" y1="381.60" x2="324.80" y2="381.60" stroke="#111" stroke-width="1.2000000000000002"/>
<rect x="318.50" y="384.80" width="7.60" height="13.70" fill="#2d4c8d" stroke="rgba(0,0,0,0.35)" stroke-width="0.5"/>
<line x1="333.50" y1="387.80" x2="333.50" y2="385.30" stroke="#111" stroke-width="1.1"/>
<line x1="331.20" y1="385.30" x2="335.80" y2="385.30" stroke="#111" stroke-width="1.2000000000000002"/>
<rect x="329.20" y="387.80" width="7.60" height="10.70" fill="#68a944" stroke="rgba(0,0,0,0.35)" stroke-width="0.5"/>
<text transform="translate(186.70,359.20) scale(1.0,1) rotate(-90)" font-size="8.50" text-anchor="middle" stroke="#202020" stroke-width="0.35" dominant-baseline="central">Absolute cell count</text>
<text transform="translate(267.70,313.50) scale(0.97,1)" font-size="9.90" text-anchor="middle" font-weight="bold" fill="#111" stroke="#111" stroke-width="0.3">Lineages: spleen</text>
<text transform="translate(311.60,396.20) scale(1.0,1)" font-size="8.20" text-anchor="middle" font-weight="bold" fill="#222" stroke="#222" stroke-width="0.3">**</text>
<line x1="392.50" y1="316.50" x2="392.50" y2="399.10" stroke="#1c1c1c" stroke-width="1.2"/>
<line x1="391.90" y1="398.50" x2="511.30" y2="398.50" stroke="#1c1c1c" stroke-width="1.2"/>
<line x1="389.50" y1="398.50" x2="392.50" y2="398.50" stroke="#1c1c1c" stroke-width="1.1"/>
<text transform="translate(386.70,401.60) scale(1.0,1)" font-size="8.00" text-anchor="end" stroke="#202020" stroke-width="0.35">0</text>
<line x1="389.50" y1="382.50" x2="392.50" y2="382.50" stroke="#1c1c1c" stroke-width="1.1"/>
<text transform="translate(386.70,385.62) scale(1.0,1)" font-size="8.00" text-anchor="end" stroke="#202020" stroke-width="0.35" letter-spacing="0.3">1x10<tspan font-size="4.8" dy="-3.2">5</tspan></text>
<line x1="389.50" y1="366.50" x2="392.50" y2="366.50" stroke="#1c1c1c" stroke-width="1.1"/>
<text transform="translate(386.70,369.64) scale(1.0,1)" font-size="8.00" text-anchor="end" stroke="#202020" stroke-width="0.35" letter-spacing="0.3">2x10<tspan font-size="4.8" dy="-3.2">5</tspan></text>
<line x1="389.50" y1="350.50" x2="392.50" y2="350.50" stroke="#1c1c1c" stroke-width="1.1"/>
<text transform="translate(386.70,353.66) scale(1.0,1)" font-size="8.00" text-anchor="end" stroke="#202020" stroke-width="0.35" letter-spacing="0.3">3x10<tspan font-size="4.8" dy="-3.2">5</tspan></text>
<line x1="389.50" y1="334.50" x2="392.50" y2="334.50" stroke="#1c1c1c" stroke-width="1.1"/>
<text transform="translate(386.70,337.68) scale(1.0,1)" font-size="8.00" text-anchor="end" stroke="#202020" stroke-width="0.35" letter-spacing="0.3">4x10<tspan font-size="4.8" dy="-3.2">5</tspan></text>
<line x1="389.50" y1="318.50" x2="392.50" y2="318.50" stroke="#1c1c1c" stroke-width="1.1"/>
<text transform="translate(386.70,321.70) scale(1.0,1)" font-size="8.00" text-anchor="end" stroke="#202020" stroke-width="0.35" letter-spacing="0.3">5x10<tspan font-size="4.8" dy="-3.2">5</tspan></text>
<line x1="422.90" y1="398.50" x2="422.90" y2="400.90" stroke="#1c1c1c" stroke-width="1.0"/>
<line x1="482.90" y1="398.50" x2="482.90" y2="400.90" stroke="#1c1c1c" stroke-width="1.0"/>
<line x1="406.50" y1="390.80" x2="406.50" y2="380.00" stroke="#111" stroke-width="1.1"/>
<line x1="403.50" y1="380.00" x2="409.50" y2="380.00" stroke="#111" stroke-width="1.2000000000000002"/>
<rect x="400.60" y="390.80" width="10.80" height="7.70" fill="#bc0a32" stroke="rgba(0,0,0,0.35)" stroke-width="0.5"/>
<text transform="translate(406.00,379.50) scale(1.0,1)" font-size="8.20" text-anchor="middle" font-weight="bold" fill="#222" stroke="#222" stroke-width="0.3">**</text>
<line x1="422.50" y1="350.00" x2="422.50" y2="339.30" stroke="#111" stroke-width="1.1"/>
<line x1="419.50" y1="339.30" x2="425.50" y2="339.30" stroke="#111" stroke-width="1.2000000000000002"/>
<rect x="417.50" y="350.00" width="10.80" height="48.50" fill="#2d4c8d" stroke="rgba(0,0,0,0.35)" stroke-width="0.5"/>
<line x1="439.50" y1="353.00" x2="439.50" y2="335.00" stroke="#111" stroke-width="1.1"/>
<line x1="436.50" y1="335.00" x2="442.50" y2="335.00" stroke="#111" stroke-width="1.2000000000000002"/>
<rect x="433.80" y="353.00" width="10.80" height="45.50" fill="#68a944" stroke="rgba(0,0,0,0.35)" stroke-width="0.5"/>
<line x1="466.50" y1="397.00" x2="466.50" y2="395.50" stroke="#111" stroke-width="1.1"/>
<line x1="463.50" y1="395.50" x2="469.50" y2="395.50" stroke="#111" stroke-width="1.2000000000000002"/>
<rect x="461.30" y="397.00" width="10.80" height="1.50" fill="#bc0a32" stroke="rgba(0,0,0,0.35)" stroke-width="0.5"/>
<text transform="translate(466.70,395.00) scale(1.0,1)" font-size="8.20" text-anchor="middle" font-weight="bold" fill="#222" stroke="#222" stroke-width="0.3">**</text>
<line x1="482.50" y1="390.50" x2="482.50" y2="388.00" stroke="#111" stroke-width="1.1"/>
<line x1="479.50" y1="388.00" x2="485.50" y2="388.00" stroke="#111" stroke-width="1.2000000000000002"/>
<rect x="477.50" y="390.50" width="10.80" height="8.00" fill="#2d4c8d" stroke="rgba(0,0,0,0.35)" stroke-width="0.5"/>
<line x1="499.50" y1="390.50" x2="499.50" y2="386.80" stroke="#111" stroke-width="1.1"/>
<line x1="496.50" y1="386.80" x2="502.50" y2="386.80" stroke="#111" stroke-width="1.2000000000000002"/>
<rect x="493.80" y="390.50" width="10.80" height="8.00" fill="#68a944" stroke="rgba(0,0,0,0.35)" stroke-width="0.5"/>
<text transform="translate(356.40,358.20) scale(1.0,1) rotate(-90)" font-size="8.50" text-anchor="middle" stroke="#202020" stroke-width="0.35" dominant-baseline="central">Absolute cell count</text>
<text transform="translate(427.00,313.50) scale(0.97,1)" font-size="9.90" text-anchor="middle" font-weight="bold" fill="#111" stroke="#111" stroke-width="0.3">LSK/MP: BM</text>
<text transform="translate(74.70,412.20) scale(0.88,1)" font-size="9.09" text-anchor="middle" stroke="#202020" stroke-width="0.35">B220+</text>
<text transform="translate(114.50,412.20) scale(0.88,1)" font-size="9.09" text-anchor="middle" stroke="#202020" stroke-width="0.35">GR1/MAC1+</text>
<text transform="translate(154.80,412.20) scale(0.88,1)" font-size="9.09" text-anchor="middle" stroke="#202020" stroke-width="0.35">CD3+</text>
<text transform="translate(242.40,412.20) scale(0.88,1)" font-size="9.09" text-anchor="middle" stroke="#202020" stroke-width="0.35">B220+</text>
<text transform="translate(282.40,412.20) scale(0.88,1)" font-size="9.09" text-anchor="middle" stroke="#202020" stroke-width="0.35">GR1/MAC1+</text>
<text transform="translate(322.00,412.20) scale(0.88,1)" font-size="9.09" text-anchor="middle" stroke="#202020" stroke-width="0.35">CD3+</text>
<text transform="translate(422.60,412.20) scale(0.88,1)" font-size="9.09" text-anchor="middle" stroke="#202020" stroke-width="0.35">MP</text>
<text transform="translate(482.60,412.20) scale(0.88,1)" font-size="9.09" text-anchor="middle" stroke="#202020" stroke-width="0.35">LSK</text></svg></body></html>
